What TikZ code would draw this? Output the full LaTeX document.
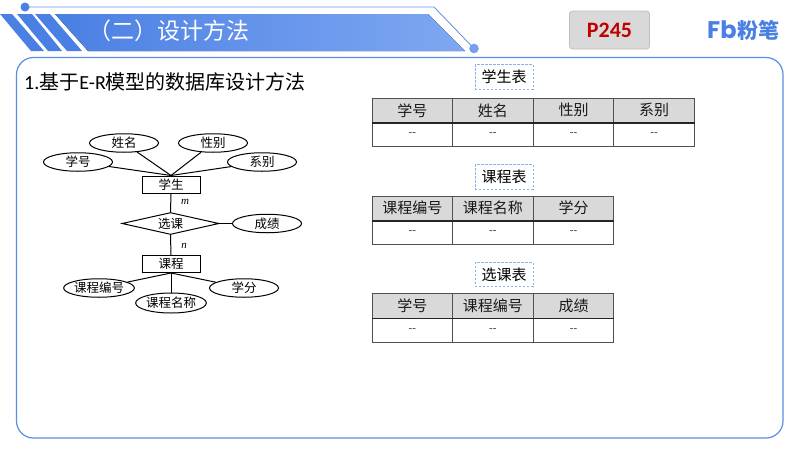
\documentclass[tikz,border=0pt]{standalone}
\usepackage{fontspec}
\setmainfont{Noto Sans CJK SC}
\newfontfamily\latinf{Carlito}
\newfontfamily\serifi{Liberation Serif}
\newfontfamily\logof{Poppins}
\usetikzlibrary{shapes.geometric,calc}
\definecolor{bluemain}{HTML}{4A7FE3}
\definecolor{bluelight}{HTML}{7FA8F2}
\definecolor{linecol}{HTML}{6E96E4}
\definecolor{capline}{HTML}{8FB0EE}
\definecolor{headfill}{HTML}{D9D9D9}
\definecolor{tline}{HTML}{505050}
\newcommand{\fs}[1]{\fontsize{#1pt}{#1pt}\selectfont}
\tikzset{
  x=1pt,y=-1pt,
  attr/.style={draw=black,line width=1pt,ellipse,inner sep=0pt,minimum width=69pt,minimum height=18.5pt,font=\fs{12.5}},
  ent/.style={draw=black,line width=1pt,inner sep=0pt,minimum width=58pt,minimum height=17pt,font=\fs{12.5}},
  er/.style={line width=1pt,black},
  capbox/.style={draw=capline,dash pattern=on 2.4pt off 1.6pt,line width=1pt,inner sep=0pt,minimum width=58pt,minimum height=24.5pt,font=\fs{15}},
  hcell/.style={draw=tline,fill=headfill,line width=.9pt,inner sep=0pt,minimum width=80.6pt,minimum height=24.3pt,font=\fs{15},text=black!90},
  dcell/.style={draw=tline,line width=.9pt,inner sep=0pt,minimum width=80.6pt,minimum height=24.3pt,font=\latinf\fs{12},text=black!75},
}
\begin{document}
\begin{tikzpicture}
\useasboundingbox (0,0) rectangle (800,450);
\fill[white] (0,0) rectangle (800,450);
% banner
\fill[left color=bluemain,right color=bluelight] (55,14) -- (428,14) -- (465,51) -- (88,51) -- cycle;
\fill[bluemain] (0,14) -- (12,14) -- (44,51) -- (31,51) -- cycle;
\fill[bluemain] (17,14) -- (32,14) -- (62,51) -- (48,51) -- cycle;
\fill[bluemain] (35,14) -- (50,14) -- (82,51) -- (67,51) -- cycle;
\coordinate (la) at (25,7);
\coordinate (lb) at (434,7);
\coordinate (lc) at (474,48.5);
\draw[linecol,line width=.9pt] (la) -- (lb) -- (lc);
\fill[bluemain] (la) circle (4.5);
\fill[bluelight!80!bluemain] (lc) circle (4.8);
\node[anchor=west,inner sep=0pt,text=white,font=\fs{23}] (title) at (88,31) {（二）设计方法};
% page badge
\node[draw=black!25,fill=black!15,rounded corners=3pt,line width=.8pt,minimum width=80pt,minimum height=38pt,inner sep=0pt,text={rgb,255:red,192;green,0;blue,0},font=\latinf\bfseries\fs{22}] (page) at (609.5,30) {P245};
\node[anchor=west,inner sep=0pt,text=bluemain,font=\logof\bfseries\fs{24}] (logo) at (707,29.5) {Fb};
\node[anchor=west,inner sep=0pt,text=bluemain,font=\bfseries\fs{21}] (logob) at (737,30) {粉笔};
% panel
\draw[draw=bluemain!90,line width=1.2pt,rounded corners=17pt] (16.5,57.5) rectangle (783,438);
\node[anchor=west,inner sep=0pt,font=\fs{20}] (heading) at (24,82) {{\latinf 1.}基于{\latinf E-R}模型的数据库设计方法};
% ER
\node[attr] (xm) at (124,143) {姓名};
\node[attr] (xb) at (213,143) {性别};
\node[attr] (xh) at (78,162) {学号};
\node[attr] (xbie) at (262,162) {系别};
\node[ent] (stu) at (171,184.5) {学生};
\node[draw=black,line width=1pt,diamond,aspect=4.4,inner sep=0pt,minimum width=97pt,minimum height=22pt,font=\fs{12.5}] (sel) at (170.5,223.5) {选课};
\node[attr] (cj) at (267,223.5) {成绩};
\node[ent] (course) at (171,264) {课程};
\node[attr] (kh) at (99,288) {课程编号};
\node[attr] (xf) at (244,288) {学分};
\node[attr,minimum height=20pt] (km) at (171,303) {课程名称};
\foreach \n in {xm,xb,xh,xbie} \draw[er] (\n) -- (stu.north);
\draw[er] (stu.south) -- (sel.north);
\draw[er] (sel.south) -- (course.north);
\draw[er] (sel.east) -- (cj.west);
\foreach \n in {kh,km,xf} \draw[er] (course.south) -- (\n);
\node[font=\serifi\itshape\fs{11},inner sep=0pt] (m) at (185,202) {m};
\node[font=\serifi\itshape\fs{11},inner sep=0pt] (n) at (184,246) {n};
% table captions
\node[capbox] (c1) at (504,77) {学生表};
\node[capbox] (c2) at (504,177) {课程表};
\node[capbox] (c3) at (504,274.7) {选课表};
% table 1
\foreach \i/\t in {0/学号,1/姓名,2/性别,3/系别}{
  \node[hcell] (ah\i) at ({412.3+80.6*\i},110.3) {\t};
  \node[dcell] (ad\i) at ({412.3+80.6*\i},134.6) {{-}{-}};
}
\draw[line width=1.4pt,black!85] (ah0.south west) -- (ah3.south east);
% table 2
\foreach \i/\t in {0/课程编号,1/课程名称,2/学分}{
  \node[hcell] (bh\i) at ({412.3+80.6*\i},208.2) {\t};
  \node[dcell] (bd\i) at ({412.3+80.6*\i},232.5) {{-}{-}};
}
\draw[line width=1.4pt,black!85] (bh0.south west) -- (bh2.south east);
% table 3
\foreach \i/\t in {0/学号,1/课程编号,2/成绩}{
  \node[hcell] (ch\i) at ({412.3+80.6*\i},306) {\t};
  \node[dcell] (cd\i) at ({412.3+80.6*\i},330.3) {{-}{-}};
}
\draw[line width=1.4pt,black!85] (ch0.south west) -- (ch2.south east);
\end{tikzpicture}
\end{document}
